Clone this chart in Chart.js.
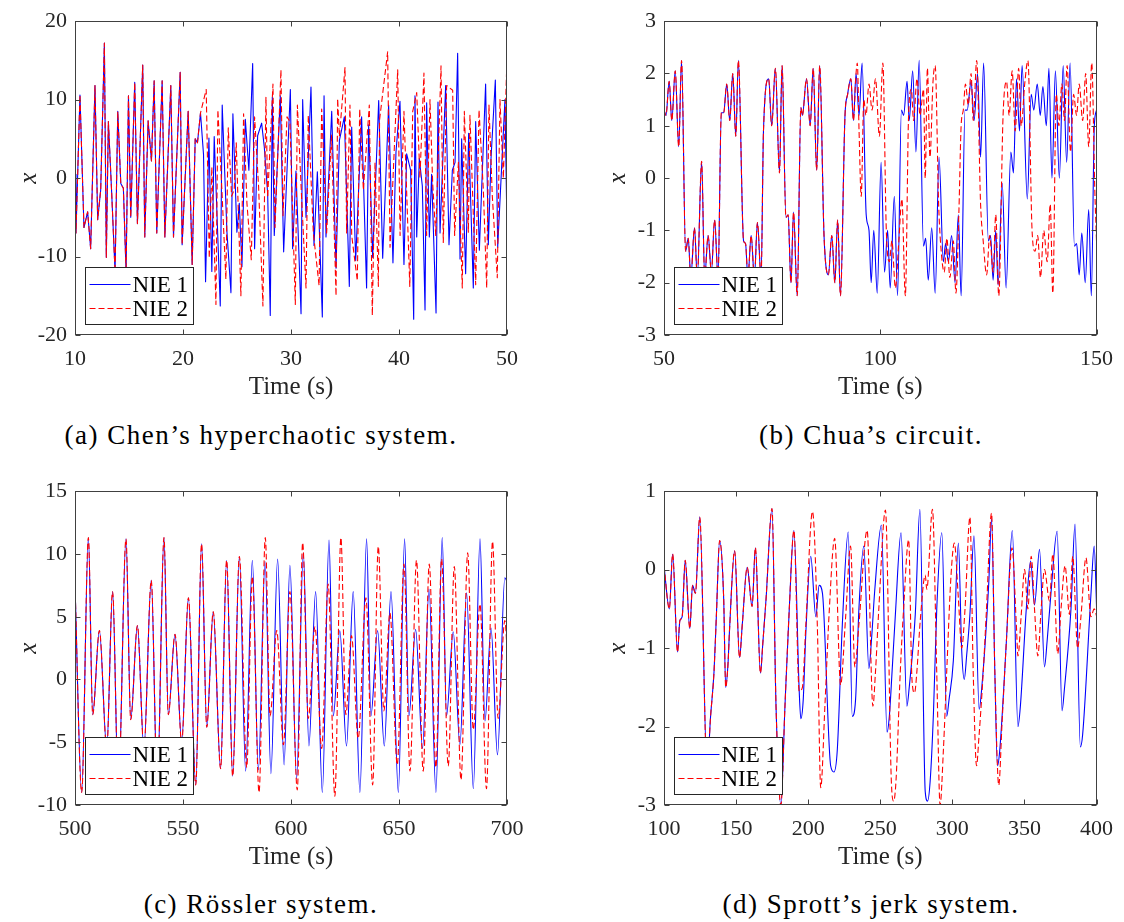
<!DOCTYPE html>
<html><head><meta charset="utf-8">
<script src="https://cdn.jsdelivr.net/npm/chart.js@4.4.1/dist/chart.umd.min.js"></script>
<style>
html,body{margin:0;padding:0;background:#fff;width:1124px;height:922px;overflow:hidden}
canvas{position:absolute}
.cap{position:absolute;transform:translate(-50%,-50%);white-space:nowrap;color:#000;font-family:"Liberation Serif",serif;font-size:27px;letter-spacing:1.5px}
</style></head><body>
<canvas id="pa" width="562" height="410" style="left:0;top:0"></canvas>
<canvas id="pb" width="562" height="410" style="left:562px;top:0"></canvas>
<canvas id="pc" width="562" height="410" style="left:0;top:470px"></canvas>
<canvas id="pd" width="562" height="410" style="left:562px;top:470px"></canvas>
<div class="cap" style="left:261px;top:435px">(a) Chen’s hyperchaotic system.</div>
<div class="cap" style="left:871px;top:435px">(b) Chua’s circuit.</div>
<div class="cap" style="left:261px;top:904px">(c) Rössler system.</div>
<div class="cap" style="left:871px;top:904px">(d) Sprott’s jerk system.</div>
<script>
// ---------- (a) Chen's hyperchaotic system ----------
const chenXTicks = [10, 20, 30, 40, 50];
const chenYTicks = [-20, -10, 0, 10, 20];
const chenSharedT = [10.0,10.09,10.46,10.83,11.17,11.45,11.85,12.1,12.38,12.72,12.9,13.09,13.4,13.71,13.96,14.24,14.48,14.73,14.95,15.16,15.53,15.78,16.27,16.46,16.77,17.08,17.33,17.57,18.07,18.32,18.87,19.12,19.74,19.92,20.48,20.85,21.13,21.34,21.62];
const chenSharedX = [0.5,-7,10.6,-6.3,-4.3,-9,11.8,-5.3,-1.5,17.2,-10.1,7.2,-2,-12,8.5,-0.7,-1.3,-12,10.5,-5,12.2,-5.8,14.4,-7.5,7.3,2.2,12.4,-7,12.4,-7.5,11.8,-7.5,13.5,-8.5,8.5,-11,5,4.5,8.3];
const chenT1 = [21.9,22.09,22.4,22.67,22.89,23.45,23.63,24.07,24.44,24.62,24.99,25.21,25.46,25.77,26.1,26.45,26.63,26.91,27.28,27.53,27.84,28.08,28.27,28.45,29.01,29.32,29.94,30.15,30.46,30.93,31.08,31.39,31.85,32.13,32.44,32.9,33.06,33.24,33.77,34.17,34.48,34.94,35.4,35.62,35.99,36.54,37.0,37.19,37.56,38.12,38.49,39.04,39.44,39.72,40.09,40.46,40.71,41.08,41.36,41.48,41.64,41.88,42.16,42.41,42.56,42.81,43.02,43.43,43.61,43.8,44.32,44.63,44.94,45.19,45.43,45.65,45.8,46.17,46.45,46.88,47.1,47.44,48.02,48.27,48.52,48.92,49.14,49.81,50.0];
const chenX1 = [3,-13.2,5.1,-11.9,5.3,-16.3,9.3,-6.9,-14.6,8.2,-6.9,-3.2,-11.3,7.5,1,14.6,-9,5.4,7,3.9,-2,-17.5,10.3,-7.3,10.5,-9.4,11.3,-9,0.9,-17.3,10,-5,11.6,-8.6,0.8,-17.7,10.5,-7.5,8.5,-11.5,4.8,7.8,-13.8,6.5,-10.5,7.8,-14,6.8,-10.1,9.9,-10.2,9.3,-10.8,3.3,9.8,-11,3.1,1,-18,10.5,-7.5,2.5,-1,-16.8,9.6,-7.5,0.5,-17.2,9.7,-7,11.8,-8.5,1,2,15.9,-10.3,5,-12.2,5.7,-14,7.2,-9.2,12,-8.5,2.5,12.5,-8.8,10,-6.5];
const chenT2 = [22.15,22.43,22.67,23.05,23.23,23.6,23.97,24.19,24.5,24.74,24.93,25.36,25.61,25.92,26.32,26.63,27.0,27.4,27.68,27.84,28.33,28.52,29.07,29.26,29.63,29.9,30.4,30.59,31.0,31.39,31.6,32.07,32.6,32.84,33.3,33.75,34.17,34.32,34.48,35.0,35.15,35.46,35.62,36.14,36.36,36.7,37.25,37.53,37.78,38.09,38.2,38.95,39.17,39.88,40.1,40.46,41.0,41.27,41.64,41.94,42.31,42.56,42.87,43.12,43.4,43.89,44.1,44.41,44.97,45.15,45.5,45.86,46.05,46.42,46.57,47.1,47.41,47.81,48.12,48.33,48.64,49.1,49.35,49.66,50.0];
const chenX2 = [11.3,-10.2,1.4,-16.1,8.7,-1.5,-12.9,6.4,-2.3,-1.5,4.5,-15,8.2,-3.2,-10.4,7.8,-1.1,-16.3,10.3,-2.5,12,-6.3,13.8,-4.8,7.8,7.2,-16.1,9.3,-3,-14,8,-7,-13.7,8.8,-7,5.5,-15,10.1,5.3,14.1,-7,9.3,-7.3,-13.1,8.8,-1.5,9.3,-17.5,2,-13.8,7.4,16.1,-8.8,13.8,-7.3,8.5,-13.8,8.5,10.9,0,13.4,-7.3,10,-0.7,-7.3,14.3,-8.2,11.8,11.2,-7.3,2,-14,8.5,-6.9,8,-13.6,8.7,-1.5,-14,9.3,-2.3,-12.7,10,0,15.3];

// ---------- (b) Chua's circuit ----------
const chuaXTicks = [50, 100, 150];
const chuaYTicks = [-3, -2, -1, 0, 1, 2, 3];
const chuaSharedT = [50,50.46,51.2,51.8,52.6,53.4,54.06,55.0,55.6,56.2,57.05,57.7,58.7,59.4,60.2,60.96,61.7,62.5,63.25,63.8,64.5,65.2,65.9,66.6,67.2,68.4,68.85,69.4,70.15,70.9,71.6,72.45,73.0,74.2,74.9,75.75,76.7,77.3,78.2,78.7,79.35,79.95,80.8,81.65,82.0,82.95,83.8,84.5,85.3,86.0,87.0,88.0,88.8,89.5,90.15,90.8,91.85,92.45,93.2,93.8,94.4];
const chuaSharedX = [1.3,1.2,1.85,1.1,2.05,0.6,2.25,-1.4,-1.15,-1.9,-0.95,-1.9,0.32,-1.9,-1.1,-1.8,-0.8,-1.9,1.25,1.25,1.8,1.1,2.0,0.8,2.25,-1.2,-1.25,-1.9,-1.1,-1.9,-0.85,-1.9,0.9,1.9,1.0,2.1,0.1,2.15,-0.75,-0.7,-2.0,-0.65,-2.25,1.35,1.2,1.9,1.0,2.1,0.15,2.15,-1.1,-1.85,-1.1,-2.0,-0.8,-2.25,1.2,1.6,1.9,1.1,2.0];
const chuaT1 = [95.1,95.8,96.75,97.4,97.9,98.5,99.3,100.2,101.0,101.7,102.3,103.25,104.0,104.9,105.4,106.2,106.7,107.5,108.25,109.0,110.0,110.5,111.1,111.9,112.7,113.6,114.6,115.1,115.75,116.5,117.3,118.05,118.7,119.6,120.1,121.0,121.7,122.5,123.2,123.9,125.0,125.5,126.1,126.7,127.25,128.2,129.1,130.2,130.8,131.5,132.2,132.8,134.0,134.9,135.5,136.3,137.0,137.6,138.4,139.0,139.7,140.5,141.4,142.3,143.1,143.9,144.9,145.4,146.0,146.6,147.4,148.2,148.8,149.5,150];
const chuaX1 = [1.2,2.2,-0.7,-1.0,-2.0,-1.0,-2.2,0.3,-1.8,-1.0,-2.1,-0.35,-2.25,1.3,1.2,1.85,1.1,2.05,0.5,2.25,-1.3,-1.15,-1.95,-0.95,-2.2,0.4,-1.6,-1.25,-1.6,-1.1,-2.0,-0.7,-2.25,1.3,1.3,1.85,1.1,2.0,0.4,2.2,-1.2,-1.1,-1.95,-1.0,-2.05,-0.1,-2.1,0.5,0.1,1.9,0.9,2.15,-0.4,1.6,1.3,1.8,1.2,1.75,1.0,2.1,0.0,2.05,0.0,2.15,0.3,2.2,-1.3,-1.25,-1.85,-1.05,-2.0,-0.6,-2.25,1.0,1.3];
const chuaT2 = [94.7,95.1,95.6,96.2,96.7,97.4,98.1,98.9,99.8,100.6,101.4,102.1,102.7,103.5,104.3,105.0,105.8,106.55,107.2,107.7,108.5,109.2,110.0,110.4,110.9,111.5,112.2,112.7,113.5,114.2,114.8,115.4,116.1,116.9,117.5,118.2,118.7,119.2,119.7,120.35,121.0,121.5,122.3,123.2,123.8,124.6,125.3,126.1,126.7,127.4,128.4,129.2,129.8,130.5,131.2,132.0,132.6,133.4,134.15,135.1,135.8,136.4,137.05,137.8,138.6,139.3,139.9,140.7,141.3,142.0,142.6,143.2,144.0,144.7,145.4,146.0,146.8,147.5,148.2,148.9,149.6,150];
const chuaX2 = [2.2,0.9,-0.35,1.5,1.2,1.8,1.3,1.9,0.8,2.2,-1.0,-1.6,-1.2,-2.1,-1.2,-0.4,-2.25,1.2,1.7,1.1,1.9,1.2,1.7,0.0,2.1,0.4,1.85,2.15,-0.5,-1.5,-1.8,-1.15,-1.9,-1.2,-2.2,-0.6,1.0,1.3,1.8,1.4,2.0,1.1,2.25,-0.5,-1.2,-1.85,-1.1,-1.8,-0.7,-2.25,1.2,1.85,1.2,2.05,0.9,2.1,1.0,1.8,2.25,-1.0,-1.4,-1.1,-1.9,-1.0,-1.6,-0.5,-2.2,1.6,1.0,1.8,1.1,2.15,0.5,1.6,1.2,1.8,1.1,2.0,0.6,2.2,-0.2,-1.2];

// ---------- (c) Rössler system ----------
const rosslerXTicks = [500, 550, 600, 650, 700];
const rosslerYTicks = [-10, -5, 0, 5, 10, 15];
const rosslerSharedT = [500,503.1,506.2,508.2,511.3,514.7,517.4,520.1,523.6,525.8,528.9,531.9,535.3,538.1,541.2,543.2,546.3,549.4,552.5,555.9,558.6,561.0,564.0,567.4,570.2,573.0,576.1];
const rosslerSharedX = [7.5,-9,11.3,-2.8,3.9,-5.5,7.0,-8.8,11.2,-3.2,4.3,-5.5,7.9,-8.5,11.3,-2.8,3.6,-5.0,6.5,-8.4,10.8,-3.8,5.4,-7.1,9.5,-7.7,9.8];
const rosslerT1 = [579.0,582.1,584.9,588.0,590.7,593.8,596.8,599.5,602.6,605.7,608.3,611.4,614.5,617.6,619.6,622.6,625.7,628.8,631.9,635.0,637.0,640.1,643.2,646.3,649.7,652.6,654.6,657.7,660.9,663.9,667.1,670.0,672.0,675.1,678.2,681.3,684.4,687.5,689.8,692.6,695.6,699.0,700];
const rosslerX1 = [-7.3,9.5,-7.2,9.4,-7.5,9.6,-6.8,9.1,-7.9,10.1,-5.3,7.0,-9.0,11.1,-2.9,3.9,-5.3,7.0,-9.0,11.2,-2.9,3.9,-5.3,7.0,-9.0,11.2,-2.9,4.0,-5.5,7.2,-9.0,11.3,-2.9,3.8,-5.2,6.9,-8.7,11.2,-3.3,4.1,-6.0,8.1,7.8];
const rosslerT2 = [579.5,582.1,585.2,588.1,590.3,593.4,596.5,599.5,602.9,605.4,608.0,611.1,614.2,617.2,620.3,623.1,625.4,628.0,631.1,634.7,637.8,640.4,643.0,645.8,649.2,652.3,655.1,658.1,661.2,664.0,667.1,669.7,672.8,675.6,678.7,681.8,684.4,687.5,690.5,693.3,695.9,699.0,700.0];
const rosslerX2 = [-7,8.2,-9.0,11.3,-2.9,3.9,-5.2,7.0,-8.8,10.9,-3.1,4.2,-5.5,7.6,-9.3,11.3,-2.8,3.5,-4.7,6.5,-8.4,10.6,-2.5,5.3,-6.8,9.2,-7.3,9.5,-7.3,9.2,-7,9.6,-6.9,9.0,-8,10.1,-4,6.0,-8.7,11.0,-3.1,4.7,2.6];

// ---------- (d) Sprott's jerk system ----------
const sprottXTicks = [100, 150, 200, 250, 300, 350, 400];
const sprottYTicks = [-3, -2, -1, 0, 1];
const sprottSharedT = [100.0,103.7,106.0,109.4,111.0,112.6,114.7,117.9,119.8,121.8,124.8,129.9,132.2,134.7,136.3,138.6,141.4,142.8,144.4,145.5,149.0,152.4,154.3,157.7,161.1,163.4,166.9,168.5,170.8,174.9,177.7,181.1,183.9,186.9,190.1,193.8];
const sprottSharedX = [0.05,-0.5,0.2,-1.05,-0.65,-0.6,0.12,-0.75,-0.2,-0.3,0.67,-2.6,-1.9,-1.3,-0.6,0.37,-0.37,-1.5,-1.2,-0.75,0.24,-1.12,-0.7,0.03,-0.47,0.28,-1.32,-0.95,-0.37,0.78,-1.74,-3.0,-1.74,-0.5,0.5,-1.55];
const sprottT1 = [194.9,196.6,198.4,201.8,205.3,207.6,209.9,215.6,217.9,220.2,223.7,227.8,230.6,232.9,235.2,238.6,242.1,243.9,246.2,250.8,254.7,256.3,258.2,260.5,264.4,268.5,270.1,274.3,277.5,281.2,282.8,284.6,286.9,289.2,292.7,296.1,297.7,300.7,304.2,306.5,308.3,309.9,312.2,315.0,318.6,320.3,325.3,327.2,329.5,331.3,332.9,337.5,341.6,345.5,347.2,351.3,354.3,357.0,360.5,363.9,365.8,368.5,372.7,376.1,377.7,382.3,385.1,388.8,390.4,396.1,398.4,400.2];
const sprottX1 = [-1.9,-1.65,-0.8,0.17,-0.6,-0.2,-0.3,-2.5,-2.58,-2.3,-0.7,0.48,-1.87,-1.65,-0.5,0.3,-1.26,-0.9,-0.26,0.57,-2.07,-1.87,-1.3,-0.57,0.47,-1.74,-1.5,-0.57,0.77,-2.83,-2.95,-2.7,-1.83,-0.5,0.47,-1.87,-1.66,-1.16,0.34,-1.03,-1.4,-1.1,-0.57,0.43,-1.78,-1.53,-0.16,0.65,-1.32,-2.5,-2.3,-0.91,0.5,-2.0,-1.74,-0.5,0.11,-0.45,0.26,-1.24,-0.9,-0.28,0.49,-1.8,-1.53,-0.5,0.58,-2.26,-2.1,-0.33,0.3,-0.57];
const sprottT2 = [196.0,198.4,203.0,206.4,208.7,211.7,214.5,218.4,222.5,226.0,229.4,232.4,235.2,240.9,244.9,246.7,249.0,253.6,257.7,259.3,260.9,263.9,266.2,269.7,272.0,273.8,275.4,277.7,281.2,282.3,286.2,289.2,291.5,293.8,296.1,299.1,301.4,304.2,306.5,308.8,312.2,314.5,316.8,318.4,321.4,323.7,327.2,329.5,332.2,334.5,337.5,341.4,344.4,345.5,347.8,350.1,352.4,354.7,357.0,359.3,361.6,363.9,367.4,369.7,373.1,375.4,378.2,381.2,383.5,386.9,389.2,392.7,396.1,398.4,400.2];
const sprottX2 = [-1.5,-0.7,0.74,-0.74,-2.78,-1.7,-0.57,0.4,-1.47,-0.6,0.3,-1.24,-0.7,0.5,-1.74,-1.3,-0.5,0.76,-2.7,-2.95,-2.7,-1.3,-0.5,0.38,-1.4,-1.57,-1.3,-0.66,-0.07,-0.25,0.77,-1.32,-3.0,-2.3,-1.3,-0.07,0.34,-0.37,-1.0,-0.5,0.67,-1.32,-2.5,-2.15,-1.32,-0.5,0.72,-1.32,-2.75,-1.95,-0.91,0.28,-0.7,-1.1,-0.57,0.0,-0.5,0.17,-0.5,-1.1,-0.5,0.0,-0.4,0.2,-1.07,-0.5,0.05,-0.57,0.17,-1.0,-0.6,0.15,-0.6,-0.5,-0.6];

const seriesLabels = ['NIE 1', 'NIE 2'];

// ---------- drawing ----------
const FONT = '"Liberation Serif", serif';
const INK = '#262626';
const SZ = { tick: 22, title: 25, legend: 23 };

function pts(t, v) { const n = Math.min(t.length, v.length); const out = []; for (let i = 0; i < n; i++) out.push({x: t[i], y: v[i]}); return out; }

const framePlugin = {
  id: 'frame',
  afterDatasetsDraw(chart) {
    const {ctx, chartArea: a, scales: {x, y}} = chart;
    ctx.save();
    ctx.setLineDash([]);
    ctx.strokeStyle = '#404040';
    ctx.lineWidth = 1;
    const L = Math.round(a.left) + 0.5, R = Math.round(a.right) - 0.5;
    const T = Math.round(a.top) + 0.5, B = Math.round(a.bottom) - 0.5;
    ctx.strokeRect(L, T, R - L, B - T);
    ctx.beginPath();
    x.ticks.forEach(t => { const p = Math.round(x.getPixelForValue(t.value)) + 0.5; ctx.moveTo(p, B); ctx.lineTo(p, B - 5); ctx.moveTo(p, T); ctx.lineTo(p, T + 5); });
    y.ticks.forEach(t => { const p = Math.round(y.getPixelForValue(t.value)) + 0.5; ctx.moveTo(L, p); ctx.lineTo(L + 5, p); ctx.moveTo(R, p); ctx.lineTo(R - 5, p); });
    ctx.stroke();
    // legend box (bottom-left, inside axes)
    const lx = Math.round(a.left) + 10.5, lw = 108, lh = 57;
    const ly = Math.round(a.bottom) - 11 - lh + 0.5;
    ctx.fillStyle = '#fff';
    ctx.fillRect(lx, ly, lw, lh);
    ctx.strokeStyle = INK;
    ctx.strokeRect(lx, ly, lw, lh);
    chart.data.datasets.forEach((ds, i) => {
      const cy = Math.round(ly + 16 + i * 24) + 0.5;
      ctx.strokeStyle = ds.borderColor;
      ctx.lineWidth = 1.2;
      ctx.setLineDash(ds.borderDash || []);
      ctx.beginPath(); ctx.moveTo(lx + 4, cy); ctx.lineTo(lx + 45, cy); ctx.stroke();
      ctx.setLineDash([]);
      ctx.fillStyle = '#000';
      ctx.font = SZ.legend + 'px ' + FONT;
      ctx.textAlign = 'left'; ctx.textBaseline = 'middle';
      ctx.fillText(ds.label, lx + 47, cy + 1);
    });
    ctx.restore();
  }
};

function makePanel(id, p) {
  const blue = pts(p.sharedT.concat(p.t1), p.sharedX.concat(p.x1));
  const red = pts(p.sharedT.concat(p.t2), p.sharedX.concat(p.x2));
  const common = { pointRadius: 0, borderWidth: 1.1, fill: false, tension: p.smooth ? 0.4 : 0, cubicInterpolationMode: p.smooth ? 'monotone' : 'default', borderJoinStyle: 'round' };
  new Chart(document.getElementById(id), {
    type: 'line',
    data: { datasets: [
      Object.assign({ label: seriesLabels[0], data: blue, borderColor: '#0000ff', order: 1 }, common),
      Object.assign({ label: seriesLabels[1], data: red, borderColor: '#ff0000', borderDash: [6, 3], order: 0 }, common)
    ]},
    options: {
      responsive: false, animation: false, events: [],
      layout: { padding: p.pad },
      plugins: { legend: { display: false }, tooltip: { enabled: false } },
      scales: {
        x: {
          type: 'linear', min: p.xTicks[0], max: p.xTicks[p.xTicks.length - 1],
          afterBuildTicks: s => { s.ticks = p.xTicks.map(v => ({ value: v })); },
          afterFit: s => { s.height = 75; },
          grid: { display: false, drawTicks: false }, border: { display: false },
          ticks: { color: INK, font: { family: FONT, size: SZ.tick }, padding: 11, maxRotation: 0, minRotation: 0, autoSkip: false, callback: v => String(v) },
          title: { display: true, text: 'Time (s)', color: INK, font: { family: FONT, size: SZ.title }, padding: { top: 0, bottom: 8 } }
        },
        y: {
          type: 'linear', min: p.yTicks[0], max: p.yTicks[p.yTicks.length - 1],
          afterBuildTicks: s => { s.ticks = p.yTicks.map(v => ({ value: v })); },
          afterFit: s => { s.width = 75; },
          grid: { display: false, drawTicks: false }, border: { display: false },
          ticks: { color: INK, font: { family: FONT, size: SZ.tick }, padding: 8, autoSkip: false, callback: v => String(v) },
          title: { display: true, text: 'x', color: INK, font: { family: FONT, size: SZ.title, style: 'italic' }, padding: { top: 14, bottom: 0 } }
        }
      }
    },
    plugins: [framePlugin]
  });
}

const padLeftCol = { left: 0, right: 55, top: 14, bottom: 0 };
const padRightCol = { left: 27, right: 25, top: 14, bottom: 0 };

makePanel('pa', { sharedT: chenSharedT, sharedX: chenSharedX, t1: chenT1, x1: chenX1, t2: chenT2, x2: chenX2, xTicks: chenXTicks, yTicks: chenYTicks, pad: padLeftCol, smooth: false });
makePanel('pb', { sharedT: chuaSharedT, sharedX: chuaSharedX, t1: chuaT1, x1: chuaX1, t2: chuaT2, x2: chuaX2, xTicks: chuaXTicks, yTicks: chuaYTicks, pad: padRightCol, smooth: true });
makePanel('pc', { sharedT: rosslerSharedT, sharedX: rosslerSharedX, t1: rosslerT1, x1: rosslerX1, t2: rosslerT2, x2: rosslerX2, xTicks: rosslerXTicks, yTicks: rosslerYTicks, pad: padLeftCol, smooth: true });
makePanel('pd', { sharedT: sprottSharedT, sharedX: sprottSharedX, t1: sprottT1, x1: sprottX1, t2: sprottT2, x2: sprottX2, xTicks: sprottXTicks, yTicks: sprottYTicks, pad: padRightCol, smooth: true });
</script>
</body></html>
